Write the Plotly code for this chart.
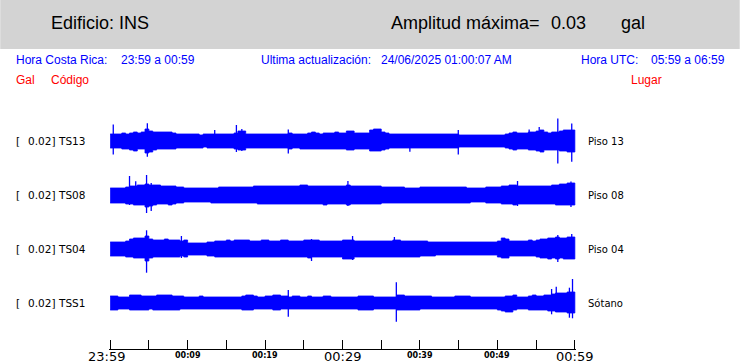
import plotly.graph_objects as go

# ---------------- data (amplitudes in mgal, 30-s envelope samples) ----------------
channels = ["TS13", "TS08", "TS04", "TSS1"]
places = ["Piso 13", "Piso 08", "Piso 04", "Sótano"]
scales = ["0.02", "0.02", "0.02", "0.02"]

up_TS13 = [7,7,7,8,7,8,9,8,9,12, 10,9,9,9,9,9,8,7,7,7, 7,7,7,6,7,7,7,7,7,7,
           7,7,8,10,10,7,7,7,7,7, 7,7,7,7,7,7,8,7,7,7, 7,8,9,8,7,8,8,8,9,8,
           8,10,10,8,8,8,8,11,12,12, 9,8,7,7,7,7,7,7,7,7, 7,7,7,7,7,7,7,7,7,7,
           6,6,6,6,6,6,6,6,6,6, 6,6,7,8,9,8,8,8,9,9, 10,11,9,8,9,9,10,11,11,11]
lo_TS13 = [7,7,7,8,8,9,10,8,8,12, 11,9,8,8,8,8,8,7,7,7, 7,7,7,7,6,7,7,7,7,7,
           7,7,8,9,9,7,7,7,7,7, 7,7,7,7,7,7,8,7,7,8, 8,8,8,8,8,8,8,8,8,8,
           8,9,9,8,8,8,8,10,10,10, 9,8,7,7,7,7,7,7,7,7, 7,7,7,7,7,7,7,7,7,7,
           6,6,6,6,6,6,6,6,6,6, 6,6,7,8,9,8,8,8,9,9, 10,11,9,9,9,9,10,10,11,11]

up_TS08 = [7,7,7,7,8,9,9,10,10,11, 10,10,10,9,9,9,9,8,8,7, 7,7,7,7,7,7,7,7,8,8,
           8,8,8,8,8,8,8,9,9,9, 9,9,9,9,9,9,9,9,9,10, 10,9,9,9,9,9,9,9,9,9,
           9,10,9,9,9,9,9,9,9,9, 8,8,8,8,8,8,7,7,7,7, 8,8,8,8,8,8,8,8,8,8,
           8,8,7,7,7,7,7,8,8,8, 8,9,9,10,10,9,9,9,9,9, 9,9,9,9,10,10,11,11,12,12]
lo_TS08 = [8,8,8,8,9,9,10,10,10,12, 11,10,9,9,9,10,9,8,8,7, 7,7,7,7,7,7,8,8,8,8,
           8,8,8,8,8,8,8,8,9,9, 9,9,9,9,9,9,9,9,9,9, 9,9,9,9,9,10,9,9,9,9,
           9,10,9,9,9,9,9,9,9,9, 8,8,8,8,8,8,8,8,8,8, 8,8,8,8,8,8,8,8,8,8,
           8,8,8,7,7,7,7,8,8,8, 8,9,9,9,10,9,9,9,9,9, 9,9,9,9,9,10,10,10,10,10]

up_TS04 = [7,7,7,7,8,10,11,11,11,13, 10,9,9,9,10,9,9,9,8,9, 6,6,6,6,6,7,7,8,8,8,
           9,8,9,9,9,9,8,8,8,9, 9,8,8,8,9,9,8,8,8,8, 9,9,9,9,8,8,8,8,8,8,
           9,9,9,8,8,8,8,8,8,8, 8,8,8,9,9,8,8,8,8,8, 8,8,7,7,7,7,7,7,7,7,
           7,7,7,7,7,7,7,7,7,7, 8,11,10,8,8,8,8,8,9,8, 9,10,10,11,11,12,11,11,12,12]
lo_TS04 = [7,7,7,7,8,8,9,9,9,12, 9,8,8,8,8,8,8,8,7,8, 6,6,6,6,6,7,7,8,8,8,
           8,8,8,8,8,8,8,8,8,8, 8,8,8,8,8,8,8,8,8,8, 8,9,8,8,8,8,8,8,8,8,
           10,10,10,8,8,8,8,8,8,8, 8,8,8,8,8,8,8,8,8,8, 7,7,7,7,6,6,6,6,6,6,
           6,6,6,6,6,6,6,6,6,6, 8,9,9,7,7,7,7,7,7,7, 8,9,9,10,9,10,9,10,10,10]

up_TSS1 = [7,7,6,6,6,8,8,8,7,7, 7,7,8,8,8,8,7,7,7,6, 6,6,6,7,6,6,6,6,6,6,
           6,6,6,6,7,8,8,7,6,6, 7,7,8,8,7,7,6,7,7,6, 6,7,6,6,6,7,7,6,6,6,
           6,6,6,6,7,7,7,7,6,6, 6,6,6,6,8,8,7,7,7,7, 7,7,7,6,6,6,6,6,6,7,
           7,7,7,6,6,6,6,6,6,6, 6,6,7,7,8,6,6,6,7,8, 7,7,8,8,9,10,10,10,11,11]
lo_TSS1 = [7,7,6,6,6,7,7,7,7,7, 6,7,7,7,7,7,7,7,6,6, 6,6,6,6,6,6,6,6,6,6,
           6,6,6,6,7,7,7,6,6,6, 6,6,7,7,6,6,6,6,6,6, 6,6,6,6,6,6,6,6,6,6,
           6,6,6,6,7,7,7,7,6,6, 6,6,6,6,7,7,7,7,7,7, 6,6,6,6,6,6,6,6,6,6,
           6,6,6,6,6,6,6,6,6,6, 7,8,9,9,7,6,6,6,7,7, 7,7,7,8,8,9,9,9,10,10]

# isolated peaks: minute, up (mgal), down (mgal)
pk_t_TS13 = [0.4, 4.8, 13.5, 16.3, 17.0, 23.0, 38.7, 44.95, 54.1, 55.4, 57.8, 59.6]
pk_u_TS13 = [16.5, 17.8, 11, 16, 12, 11.5, 7, 11, 11.5, 14, 22.5, 17.5]
pk_d_TS13 = [13.5, 15.8, 7, 11, 10, 12.5, 10.8, 13.5, 8, 9, 22.5, 20.8]
pk_t_TS08 = [2.5, 3.3, 4.7, 5.3, 30.7, 52.6, 59.5]
pk_u_TS08 = [19, 13.7, 20, 12, 14, 14, 13.5]
pk_d_TS08 = [10, 9, 18, 16, 11, 11, 12]
pk_t_TS04 = [4.7, 9.2, 26.0, 31.3, 36.7, 57.8, 59.6]
pk_u_TS04 = [18.7, 13, 10, 13, 12, 14, 15]
pk_d_TS04 = [23.7, 9, 12, 11, 8, 13, 10]
pk_t_TSS1 = [23.0, 36.95, 57.0, 57.6, 59.3, 59.7]
pk_u_TSS1 = [13, 20.7, 14, 16.3, 15.3, 24]
pk_d_TSS1 = [13.7, 18.7, 11.3, 9, 14.7, 15.3]

tick_minutes = [0, 10, 20, 30, 40, 50, 60]
tick_labels = ["23:59", "00:09", "00:19", "00:29", "00:39", "00:49", "00:59"]
tick_major = [True, False, False, True, False, False, True]

SAMPLE_MIN = 0.5
# ---------------------------------------------------------------------------------

W, H = 740, 363
X0, X1 = 110, 575          # pixel positions of minute 0 and minute 60
PAD_MIN = 0.15             # small range padding so the end ticks are drawn
PPM = (X1 - X0) / 60.0
PL, PR = X0 - PAD_MIN * PPM, X1 + PAD_MIN * PPM
PT, PB = 100, 349
ROW0, ROWSTEP = 141, 54
BLUE = "#0000ff"


def px_x(px):
    return (px - PL) / (PR - PL)


def px_y(py):
    return (PB - py) / (PB - PT)


ups = [up_TS13, up_TS08, up_TS04, up_TSS1]
los = [lo_TS13, lo_TS08, lo_TS04, lo_TSS1]
pks = [(pk_t_TS13, pk_u_TS13, pk_d_TS13), (pk_t_TS08, pk_u_TS08, pk_d_TS08),
       (pk_t_TS04, pk_u_TS04, pk_d_TS04), (pk_t_TSS1, pk_u_TSS1, pk_d_TSS1)]

fig = go.Figure()
for k in range(4):
    off = PB - (ROW0 + ROWSTEP * k)
    up, lo = ups[k], los[k]
    xt, yt, xb, yb = [], [], [], []
    for i, (u, l) in enumerate(zip(up, lo)):
        a, b = SAMPLE_MIN * i, SAMPLE_MIN * (i + 1)
        xt += [a, b]
        yt += [off + u, off + u]
        xb += [a, b]
        yb += [off - l, off - l]
    fig.add_trace(go.Scatter(
        x=xt + xb[::-1], y=yt + yb[::-1], mode="lines", fill="toself",
        fillcolor=BLUE, line=dict(color=BLUE, width=0.8),
        showlegend=False, hoverinfo="skip"))
    px_, py_ = [], []
    for t, u, d in zip(*pks[k]):
        px_ += [t, t, None]
        py_ += [off - d, off + u, None]
    fig.add_trace(go.Scatter(x=px_, y=py_, mode="lines",
                             line=dict(color=BLUE, width=1.3),
                             showlegend=False, hoverinfo="skip"))

shapes = [dict(type="rect", xref="paper", yref="paper",
               x0=px_x(0), x1=px_x(W), y0=px_y(49), y1=px_y(0),
               fillcolor="#d3d3d3", line=dict(width=0), layer="below")]

ann = []


def txt(s, x, y, size, color, family, anchor="left"):
    ann.append(dict(text=s, xref="paper", yref="paper",
                    x=px_x(x), y=px_y(y), xanchor=anchor, yanchor="middle",
                    showarrow=False, borderpad=0,
                    font=dict(size=size, color=color, family=family)))


HF = "Liberation Sans, Arial, sans-serif"
DF = "DejaVu Sans, sans-serif"
txt("Edificio: INS", 50, 23, 18, "black", HF)
txt("Amplitud máxima=", 390, 23, 18, "black", HF)
txt("0.03", 550, 23, 18, "black", HF)
txt("gal", 620, 23, 18, "black", HF)

txt("Hora Costa Rica:", 15, 60, 12, BLUE, HF)
txt("23:59 a 00:59", 120, 60, 12, BLUE, HF)
txt("Ultima actualización:", 260, 60, 12, BLUE, HF)
txt("24/06/2025 01:00:07 AM", 380, 60, 12, BLUE, HF)
txt("Hora UTC:", 580, 60, 12, BLUE, HF)
txt("05:59 a 06:59", 650, 60, 12, BLUE, HF)

txt("Gal", 15, 80, 12, "red", HF)
txt("Código", 50, 80, 12, "red", HF)
txt("Lugar", 630, 80, 12, "red", HF)

for k in range(4):
    yc = ROW0 + ROWSTEP * k
    txt("[", 15, yc, 10.5, "black", DF)
    txt(scales[k] + "]", 27, yc, 10.5, "black", DF)
    txt(channels[k], 57, yc, 10.5, "black", DF)
    txt(places[k], 587, yc, 10, "black", DF)

for j, (t, lab, big) in enumerate(zip(tick_minutes, tick_labels, tick_major)):
    ann.append(dict(text=lab if big else "<b>%s</b>" % lab, xref="x", yref="paper",
                    x=t, y=px_y(356 if big else 355), xanchor="center", yanchor="middle",
                    xshift=-3.5 if j == 0 else 0,
                    showarrow=False, borderpad=0,
                    font=dict(size=13 if big else 8, color="black", family=DF)))

fig.update_layout(
    width=W, height=H, margin=dict(l=PL, r=W - PR, t=PT, b=H - PB, pad=0),
    paper_bgcolor="white", plot_bgcolor="white",
    shapes=shapes, annotations=ann,
    xaxis=dict(range=[-PAD_MIN, 60 + PAD_MIN], showgrid=False, zeroline=False,
               showline=True, linecolor="black", linewidth=1, ticks="inside",
               ticklen=9, tickcolor="black", tickwidth=1,
               tickvals=[5 * i for i in range(13)],
               showticklabels=False, fixedrange=True),
    yaxis=dict(range=[0, PB - PT], visible=False, showgrid=False, zeroline=False,
               fixedrange=True),
)
fig.write_html("out.html")
